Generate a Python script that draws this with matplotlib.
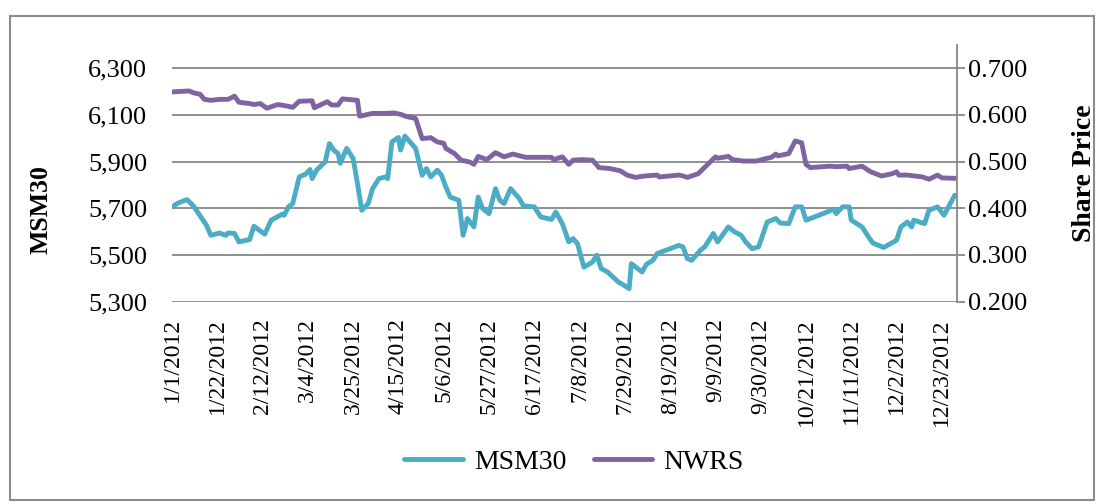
import matplotlib
matplotlib.use("Agg")
import matplotlib.pyplot as plt
import numpy as np
import pandas as pd
from matplotlib.patches import Rectangle
from matplotlib.ticker import FuncFormatter

# days counted from 1/1/2012
msm_days = [0, 3, 7, 10, 16, 18, 22, 25, 26, 29, 31, 36, 38, 43, 46, 51, 52, 54, 56, 59,
            62, 64, 65, 67, 71, 73, 75, 77, 78, 81, 84, 86, 88, 91, 93, 96, 99, 100, 102, 105,
            106, 108, 113, 116, 118, 120, 123, 125, 127, 129, 133, 135, 137, 140, 142, 144, 147, 150, 152, 154,
            157, 161, 163, 168, 171, 176, 178, 181, 184, 186, 188, 191, 195, 197, 199, 202, 207, 209, 212, 213,
            218, 220, 223, 225, 229, 235, 237, 239, 241, 245, 247, 251, 253, 258, 261, 264, 266, 269, 272, 276,
            280, 282, 286, 289, 292, 294, 300, 307, 308, 311, 314, 315, 320, 323, 325, 330, 336, 338, 341, 343,
            344, 349, 351, 355, 358, 363]
msm_values = [5706, 5723, 5737, 5709, 5627, 5584, 5594, 5584, 5594, 5592, 5556, 5566, 5623, 5589, 5649, 5674, 5670, 5706, 5720, 5834,
              5846, 5866, 5827, 5863, 5898, 5977, 5949, 5934, 5892, 5956, 5913, 5806, 5691, 5720, 5784, 5827, 5834, 5827, 5984, 6003,
              5949, 6009, 5956, 5841, 5870, 5834, 5863, 5841, 5791, 5748, 5734, 5584, 5656, 5620, 5748, 5699, 5677, 5784, 5734, 5720,
              5784, 5742, 5710, 5706, 5663, 5652, 5684, 5634, 5556, 5570, 5549, 5448, 5470, 5499, 5442, 5427, 5384, 5374, 5356, 5463,
              5427, 5460, 5477, 5506, 5520, 5541, 5534, 5484, 5477, 5520, 5534, 5592, 5556, 5620, 5598, 5584, 5556, 5527, 5534, 5641,
              5656, 5637, 5634, 5706, 5706, 5649, 5670, 5696, 5677, 5706, 5706, 5649, 5620, 5577, 5551, 5532, 5563, 5620, 5641, 5620,
              5649, 5634, 5691, 5706, 5670, 5756]

nwrs_days = [0, 8, 10, 13, 15, 18, 22, 26, 29, 31, 36, 38, 41, 44, 49, 53, 56, 59, 65, 66,
             72, 74, 77, 79, 86, 87, 93, 99, 103, 106, 109, 113, 116, 120, 123, 126, 127, 131, 134, 138,
             140, 142, 146, 150, 154, 158, 164, 176, 177, 181, 184, 186, 190, 195, 198, 203, 208, 211, 215, 219,
             225, 226, 235, 237, 239, 244, 248, 252, 253, 258, 260, 265, 271, 276, 278, 280, 281, 286, 287, 289,
             292, 294, 296, 305, 308, 313, 314, 320, 324, 329, 334, 336, 337, 341, 348, 351, 355, 357, 363]
nwrs_values = [0.649, 0.651, 0.647, 0.644, 0.633, 0.631, 0.633, 0.633, 0.640, 0.627, 0.624, 0.622, 0.624, 0.614, 0.622, 0.619, 0.616, 0.629, 0.630, 0.615,
               0.628, 0.621, 0.621, 0.634, 0.631, 0.597, 0.603, 0.603, 0.604, 0.601, 0.596, 0.592, 0.549, 0.551, 0.542, 0.539, 0.528, 0.517, 0.503, 0.499,
               0.494, 0.511, 0.504, 0.519, 0.510, 0.516, 0.509, 0.509, 0.504, 0.510, 0.494, 0.503, 0.504, 0.503, 0.487, 0.485, 0.480, 0.471, 0.466, 0.469,
               0.471, 0.467, 0.471, 0.469, 0.466, 0.474, 0.492, 0.510, 0.507, 0.511, 0.504, 0.501, 0.501, 0.507, 0.509, 0.516, 0.512, 0.517, 0.526, 0.544,
               0.540, 0.494, 0.487, 0.490, 0.489, 0.490, 0.485, 0.490, 0.478, 0.469, 0.474, 0.478, 0.471, 0.471, 0.467, 0.462, 0.471, 0.465, 0.464]

left_ticks = [5300, 5500, 5700, 5900, 6100, 6300]
right_ticks = [0.2, 0.3, 0.4, 0.5, 0.6, 0.7]

start = pd.Timestamp("2012-01-01")
msm_dates = start + pd.to_timedelta(msm_days, unit="D")
nwrs_dates = start + pd.to_timedelta(nwrs_days, unit="D")
date_ticks = pd.date_range("2012-01-01", "2012-12-23", freq="21D")

plt.rcParams["font.family"] = ["Liberation Serif", "DejaVu Serif"]
grid_color = "#878787"
blue = "#4BACC6"
purple = "#8064A2"

fig = plt.figure(figsize=(11.04, 5.04), dpi=100)
ax = fig.add_axes([0.1558, 0.4014, 0.7110, 0.5099])
ax2 = ax.twinx()

ax.plot(msm_dates, msm_values, color=blue, lw=3.5, label="MSM30", solid_capstyle="round")
ax2.plot(nwrs_dates, nwrs_values, color=purple, lw=3.5, label="NWRS", solid_capstyle="round")

ax.set_ylim(5300, 6400)
ax.set_yticks(left_ticks)
ax.yaxis.set_major_formatter(FuncFormatter(lambda v, _: f"{v:,.0f}"))
ax2.set_ylim(0.2, 0.75)
ax2.set_yticks(right_ticks)
ax2.yaxis.set_major_formatter(FuncFormatter(lambda v, _: f"{v:.3f}"))

ax.set_xlim(pd.Timestamp("2012-01-01"), pd.Timestamp("2012-12-30"))
ax.set_xticks(date_ticks)
ax.set_xticklabels([f"{d.month}/{d.day}/{d.year}" for d in date_ticks], rotation=90)

ax.grid(axis="y", color=grid_color, lw=1.3)
ax.set_axisbelow(True)
for spine in ["top", "left", "bottom"]:
    ax.spines[spine].set_visible(False)
    ax2.spines[spine].set_visible(False)
ax.spines["right"].set_visible(False)
ax2.spines["right"].set_color(grid_color)
ax2.spines["right"].set_linewidth(1.3)

ax.tick_params(axis="y", length=0, pad=18, labelsize=19)
ax.tick_params(axis="x", length=0, pad=12, labelsize=17)
ax2.tick_params(axis="y", length=6, width=1.3, color=grid_color, pad=2, labelsize=19)

ax.set_ylabel("MSM30", fontsize=18.5, fontweight="bold")
ax.yaxis.set_label_coords(-0.152, 0.36)
ax2.set_ylabel("Share Price", fontsize=20, fontweight="bold")
ax2.yaxis.set_label_coords(1.146, 0.5)

handles = ax.get_lines() + ax2.get_lines()
fig.legend(handles, [h.get_label() for h in handles], loc="center", ncol=2,
           bbox_to_anchor=(0.52, 0.083), frameon=False, fontsize=20,
           handlelength=2.1, columnspacing=1.0, handletextpad=0.4)

fig.patches.append(Rectangle((0.0095, 0.008), 0.981, 0.961, transform=fig.transFigure,
                             fill=False, edgecolor="#8c8c8c", lw=1.5))

fig.savefig("out.png", dpi=100)
